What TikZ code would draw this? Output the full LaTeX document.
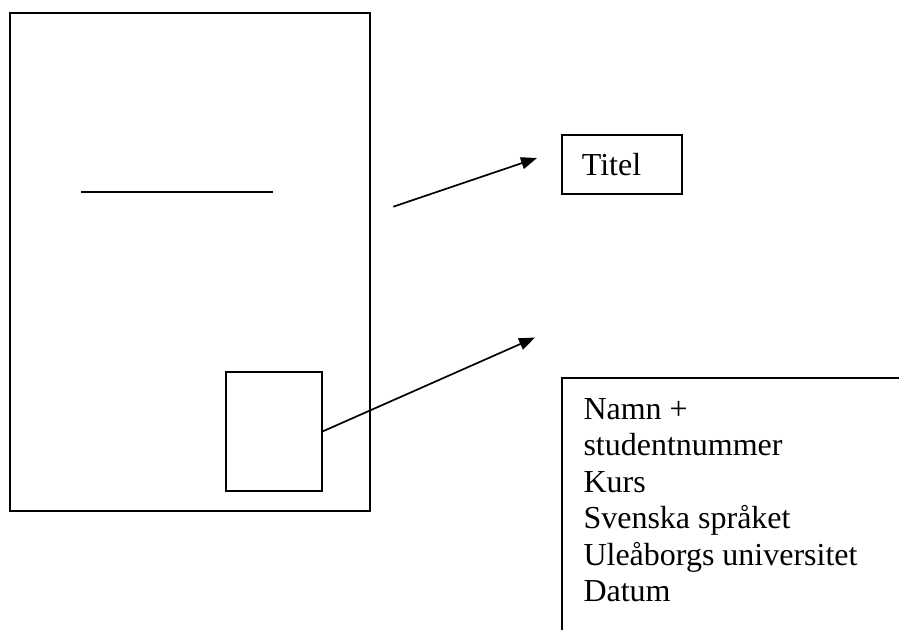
\documentclass[tikz,border=0pt]{standalone}
\usepackage{fontspec}
\setmainfont{Liberation Serif}
\usetikzlibrary{arrows.meta}
\begin{document}
\begin{tikzpicture}[x=1pt,y=-1pt,
  ln/.style={line width=2pt},
  arr/.style={line width=1.7pt,-{Triangle[length=16pt,width=12pt]}},
  txt/.style={font=\fontsize{32pt}{36.5pt}\selectfont,inner sep=0pt,align=left}]
\useasboundingbox (0,0) rectangle (899,630);
% page
\node[ln,draw,minimum width=360.5pt,minimum height=498pt,inner sep=0pt,anchor=north west] (page) at (8.5,12) {};
% title line
\draw[ln] (81,191.5) coordinate (tl1) -- (273,191.5) coordinate (tl2);
% small box
\node[ln,draw,minimum width=96pt,minimum height=119.5pt,inner sep=0pt,anchor=north west] (small) at (225,370.5) {};
% titel box
\node[ln,draw,minimum width=120.6pt,minimum height=58.4pt,inner sep=0pt,anchor=north west] (titelbox) at (560.7,134.3) {};
\node[txt,anchor=base west] (titel) at (581.7,175) {Titel};
% info box (top and left sides only)
\coordinate (ib1) at (899,377.7);
\coordinate (ib2) at (562.3,377.7);
\coordinate (ib3) at (562.3,630);
\draw[ln] (ib1) -- (ib2) -- (ib3);
\node[txt,anchor=base west] (info) at (583.3,601.7) {Namn +\\studentnummer\\Kurs\\Svenska språket\\Uleåborgs universitet\\Datum};
% arrows
\coordinate (a1s) at (393.3,206.7);
\coordinate (a1e) at (537,158);
\draw[arr] (a1s) -- (a1e);
\coordinate (a2e) at (535,337.5);
\draw[arr] (small.east) -- (a2e);
\end{tikzpicture}
\end{document}
